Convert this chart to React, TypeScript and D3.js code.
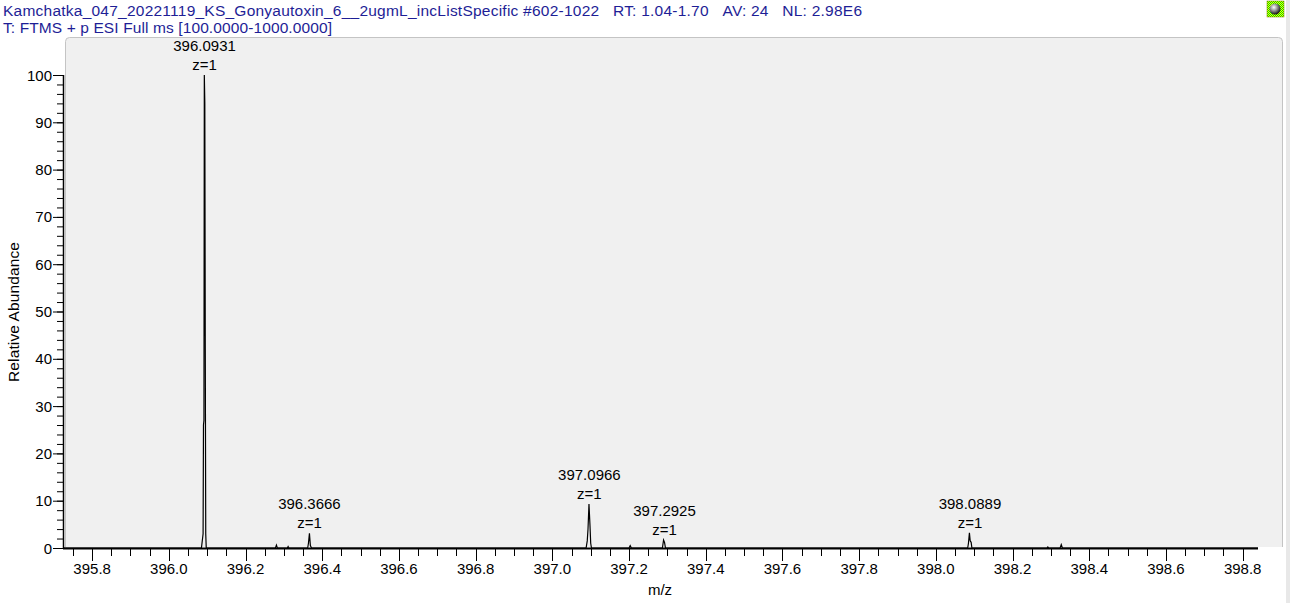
import React from "react";
import * as d3 from "d3";

const headerLine1 = "Kamchatka_047_20221119_KS_Gonyautoxin_6__2ugmL_incListSpecific #602-1022   RT: 1.04-1.70   AV: 24   NL: 2.98E6";
const headerLine2 = "T: FTMS + p ESI Full ms [100.0000-1000.0000]";

const xTickLabels = ["395.8", "396.0", "396.2", "396.4", "396.6", "396.8", "397.0", "397.2", "397.4", "397.6", "397.8", "398.0", "398.2", "398.4", "398.6", "398.8"];
const yTickLabels = [0, 10, 20, 30, 40, 50, 60, 70, 80, 90, 100];

// profile spectrum: [m/z, relative abundance]
const spectrumMz = [
  395.724, 396.085, 396.0893, 396.0903, 396.0915, 396.0925, 396.0938, 396.095, 396.0962, 396.0975,
  396.278, 396.2805, 396.283, 396.309, 396.311, 396.313,
  396.362, 396.364, 396.3666, 396.369, 396.372,
  397.088, 397.091, 397.093, 397.0955, 397.098, 397.1, 397.102,
  397.2, 397.203, 397.206,
  397.287, 397.29, 397.2925, 397.295,
  398.083, 398.085, 398.0875, 398.0895, 398.092, 398.094,
  398.29, 398.292, 398.294, 398.324, 398.327, 398.33, 398.84,
];
const spectrumIntensity = [
  0, 0, 3, 26, 27, 100, 94, 42, 3, 0,
  0, 0.6, 0, 0, 0.3, 0,
  0, 1, 3.1, 0.5, 0,
  0, 1.5, 4, 9.3, 5, 1, 0,
  0, 0.5, 0,
  0, 1.7, 1.2, 0,
  0, 1, 3.2, 1.5, 1.2, 0,
  0, 0.2, 0, 0, 0.7, 0, 0,
];

const labelMz = [396.0931, 396.3666, 397.0966, 397.2925, 398.0889];
const labelHeights = [100, 3.1, 9.3, 1.7, 3.2];
const labelCharges = [1, 1, 1, 1, 1];

const W = 1290;
const H = 603;
const FONT = "'Liberation Sans', Arial, sans-serif";

export default function App() {
  const x = d3.scaleLinear().domain([395.724, 398.84]).range([63, 1258]);
  const y = d3.scaleLinear().domain([0, 100]).range([548, 75]);

  const pts: [number, number][] = spectrumMz.map((m, i) => [m, spectrumIntensity[i]]);
  const line = d3
    .line<[number, number]>()
    .x((d) => x(d[0]))
    .y((d) => y(d[1]));

  const xMinor = d3.range(0, 63).map((i) => 395.75 + i * 0.05).filter((v) => v <= 398.84);
  const yMinor = d3.range(0, 51).map((i) => i * 2);

  const px = 65.5, py = 37.5, pr = 1282.5, pb = 547, rad = 4;
  const panelPath = `M${px},${pb} L${px},${py + rad} Q${px},${py} ${px + rad},${py} L${pr - rad},${py} Q${pr},${py} ${pr},${py + rad} L${pr},${pb}`;

  return (
    <div style={{ position: "fixed", left: 0, top: 0 }}>
      <svg width={W} height={H} style={{ display: "block", background: "#fff" }} fontFamily={FONT}>
        <defs>
          <pattern id="chk" width="2" height="2" patternUnits="userSpaceOnUse">
            <rect width="2" height="2" fill="#ffff00" />
            <rect width="1" height="1" fill="#00e000" />
            <rect x="1" y="1" width="1" height="1" fill="#00e000" />
          </pattern>
          <radialGradient id="ball" cx="0.4" cy="0.35" r="0.7">
            <stop offset="0" stopColor="#ffffff" />
            <stop offset="0.4" stopColor="#a0a0a0" />
            <stop offset="1" stopColor="#000000" />
          </radialGradient>
        </defs>
        {/* right strip */}
        <rect x={1286} y={0} width={4} height={H} fill="#e8e8e8" />
        {/* header */}
        <text x={3} y={16} fontSize={15.5} fill="#1e1e96" textLength={859} lengthAdjust="spacing">{headerLine1.replace(/ {3}/g, "\u00a0\u00a0\u00a0")}</text>
        <text x={3} y={33} fontSize={15.5} fill="#1e1e96" textLength={329} lengthAdjust="spacing">{headerLine2}</text>
        {/* icon */}
        <rect x={1267} y={1} width={17} height={16} fill="url(#chk)" stroke="#808000" strokeWidth={0.5} />
        <circle cx={1275} cy={9} r={5.5} fill="url(#ball)" />
        {/* plot panel */}
        <path d={panelPath + " Z"} fill="#f0f0f0" stroke="none" />
        <path d={panelPath} fill="none" stroke="#c4c4c4" strokeWidth={1} />
        {/* spectrum */}
        <path d={line(pts) || ""} fill="none" stroke="#000" strokeWidth={1.2} />
        {/* peak labels */}
        {labelMz.map((m, i) => (
          <g key={i} fontSize={15} fill="#000" textAnchor="middle">
            <text x={x(m)} y={y(labelHeights[i]) - 24}>{m.toFixed(4)}</text>
            <text x={x(m)} y={y(labelHeights[i]) - 5}>{`z=${labelCharges[i]}`}</text>
          </g>
        ))}
        {/* y axis */}
        <line x1={63.5} x2={63.5} y1={y(100)} y2={549} stroke="#000" strokeWidth={1.5} />
        {yMinor.map((v) => (
          <line key={"ym" + v} x1={57} x2={63} y1={y(v) + 0.5} y2={y(v) + 0.5} stroke="#000" strokeWidth={1} />
        ))}
        {yTickLabels.map((v) => (
          <g key={"y" + v}>
            <line x1={53} x2={63} y1={y(v) + 0.5} y2={y(v) + 0.5} stroke="#000" strokeWidth={1} />
            <text x={52} y={y(v) + 5.5} fontSize={15} textAnchor="end" fill="#000">{v}</text>
          </g>
        ))}
        {/* x axis */}
        <line x1={63} x2={1258} y1={548.5} y2={548.5} stroke="#000" strokeWidth={2} />
        {xMinor.map((v, i) => (
          <line key={"xm" + i} x1={Math.round(x(v)) + 0.5} x2={Math.round(x(v)) + 0.5} y1={549} y2={556} stroke="#000" strokeWidth={1} />
        ))}
        {xTickLabels.map((t) => (
          <g key={"x" + t}>
            <line x1={Math.round(x(+t)) + 0.5} x2={Math.round(x(+t)) + 0.5} y1={549} y2={561} stroke="#000" strokeWidth={1} />
            <text x={x(+t)} y={574} fontSize={15} textAnchor="middle" fill="#000">{t}</text>
          </g>
        ))}
        {/* axis titles */}
        <text x={660} y={595} fontSize={15} textAnchor="middle" fill="#000">m/z</text>
        <text transform="translate(19,312) rotate(-90)" fontSize={15.5} textAnchor="middle" fill="#000" textLength={140} lengthAdjust="spacing">Relative Abundance</text>
      </svg>
    </div>
  );
}
